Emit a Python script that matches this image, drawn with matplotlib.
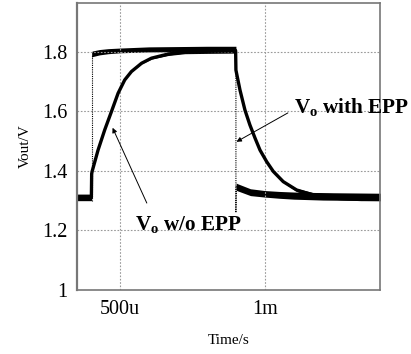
import numpy as np
import matplotlib
matplotlib.use("Agg")
import matplotlib.pyplot as plt

plt.rcParams['font.family'] = ['Liberation Serif', 'DejaVu Serif']
plt.rcParams['mathtext.fontset'] = 'custom'
plt.rcParams['mathtext.rm'] = 'Liberation Serif'
plt.rcParams['mathtext.bf'] = 'Liberation Serif:bold'

# time in microseconds, voltages in V
t_with = [352, 402, 403, 405, 430, 460, 500, 600, 700, 800, 899, 900, 901, 903, 950, 1000, 1050, 1100, 1200, 1300, 1400]
v_with_hi = [1.322, 1.322, 1.80, 1.803, 1.808, 1.811, 1.813, 1.817, 1.818, 1.819, 1.819, 1.819, 1.360, 1.358, 1.340, 1.334, 1.331, 1.329, 1.327, 1.326, 1.325]
v_with_lo = [1.300, 1.300, 1.78, 1.784, 1.790, 1.794, 1.797, 1.800, 1.801, 1.802, 1.802, 1.802, 1.336, 1.334, 1.317, 1.312, 1.308, 1.305, 1.302, 1.301, 1.300]

# fast edges of the EPP trace (thin dotted in the plot)
t_edge_up = [403, 403]
v_edge_up = [1.30, 1.79]
t_edge_dn = [900, 900, 901]
v_edge_dn = [1.81, 1.26, 1.35]

t_wo = [352, 402, 403, 404.5, 425, 448, 471, 494, 517, 540, 575, 609, 667, 724, 800, 899,
        900, 914, 931, 948, 966, 983, 1006, 1029, 1063, 1109, 1167, 1259, 1330, 1400]
v_wo = [1.311, 1.311, 1.39, 1.398, 1.470, 1.538, 1.599, 1.661, 1.706, 1.734, 1.762, 1.779, 1.793, 1.800, 1.802, 1.804,
        1.739, 1.672, 1.605, 1.555, 1.510, 1.470, 1.431, 1.398, 1.364, 1.336, 1.319, 1.313, 1.311, 1.311]
ripple_wo = [0.010, 0.010, 0.0, 0.0, 0.0, 0.0, 0.0, 0.0, 0.0, 0.001, 0.002, 0.003, 0.005, 0.006, 0.007, 0.008,
             0.0, 0.0, 0.0, 0.0, 0.0, 0.0, 0.0, 0.001, 0.003, 0.005, 0.008, 0.010, 0.011, 0.011]

xticks = [500, 1000]
xticklabels = ["500u", "1m"]
yticks = [1.0, 1.2, 1.4, 1.6, 1.8]
yticklabels = ["1", "1.2", "1.4", "1.6", "1.8"]

fig = plt.figure(figsize=(4.11, 3.54), dpi=100)
ax = fig.add_axes([0.187, 0.181, 0.738, 0.811])

ax.fill_between(t_with, v_with_lo, v_with_hi, color='black', lw=0)
ax.plot(t_edge_up, v_edge_up, color='black', lw=0.8, ls=(0, (1, 1)))
ax.plot(t_edge_dn, v_edge_dn, color='black', lw=0.8, ls=(0, (1, 1)))

v_wo = np.array(v_wo)
rip = np.array(ripple_wo)
ax.plot(t_wo, v_wo, color='black', lw=2.4, solid_capstyle='butt', solid_joinstyle='round')
ax.fill_between(t_wo, v_wo - rip, v_wo + rip, color='black', lw=0)

ax.set_xlim(352, 1397)
ax.set_ylim(1.0, 1.965)
ax.set_xticks(xticks)
ax.set_xticklabels(xticklabels)
ax.set_yticks(yticks)
ax.set_yticklabels(yticklabels)
ax.tick_params(length=0, labelsize=14.5)
ax.tick_params(axis='y', pad=6.5)
ax.tick_params(axis='x', pad=7)
ax.grid(True, color='#999999', ls=(0, (1.5, 1.5)), lw=0.8)
for s in ax.spines.values():
    s.set_color('#777777')
    s.set_linewidth(1.2)
ax.spines['left'].set_linewidth(1.6)

ax.set_ylabel("Vout/V", fontsize=11, labelpad=8)
ax.set_xlabel("Time/s", fontsize=11, labelpad=11)

arrow = dict(arrowstyle='-|>', color='black', lw=0.7, mutation_scale=7, shrinkA=0, shrinkB=0)
ax.annotate("", xy=(902, 1.498), xytext=(1079, 1.595), arrowprops=arrow)
ax.annotate("", xy=(475, 1.545), xytext=(593, 1.292), arrowprops=arrow)
ax.text(1100, 1.595, r"$\mathbf{V_o}$ with EPP", fontsize=15.2, fontweight='bold',
        ha='left', va='baseline', clip_on=False)
ax.text(552, 1.202, r"$\mathbf{V_o}$ w/o EPP", fontsize=15.2, fontweight='bold',
        ha='left', va='baseline')

fig.savefig("out.png", dpi=100)
